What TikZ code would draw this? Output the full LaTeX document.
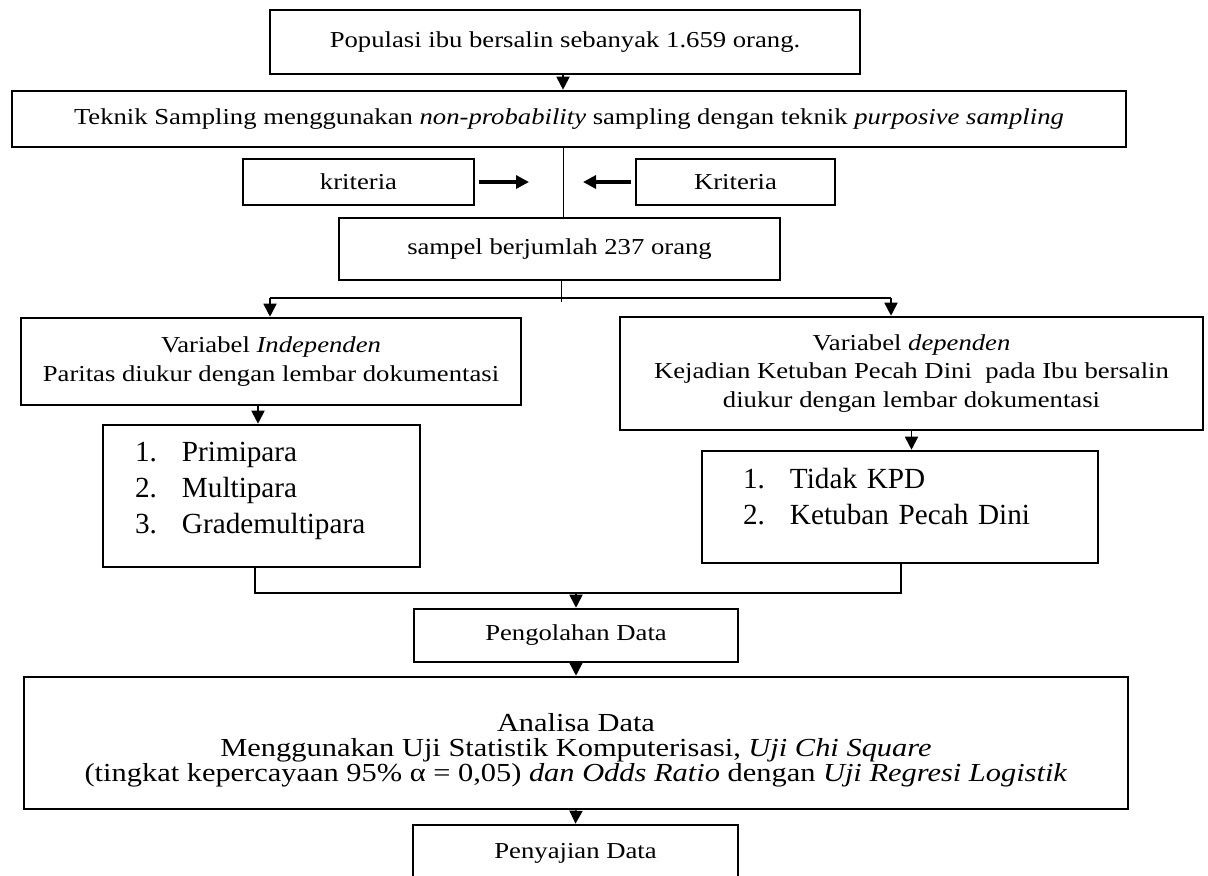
\documentclass[tikz,border=0pt]{standalone}
\usepackage{fontspec}
\setmainfont{Liberation Serif}[FakeStretch=1.17]
\newfontfamily\listfont{Liberation Serif}
\usepackage{tikz}
\usetikzlibrary{arrows.meta, calc}

\begin{document}
\begin{tikzpicture}[x=0.5pt, y=-0.5pt, >={Triangle[length=6.5pt,width=6.5pt]},
  box/.style={draw, line width=1.3pt, inner sep=0pt, align=center, font=\fontsize{11.4}{14.2}\selectfont},
  listbox/.style={draw, line width=1.3pt, inner ysep=0pt, align=left, font=\listfont\fontsize{14.6}{18}\selectfont},
  link/.style={line width=0.9pt},
  thinlink/.style={line width=0.5pt}]

  \useasboundingbox (0,0) rectangle (1208,875);

  \node[box, minimum width=295pt, minimum height=32pt] (pop) at (565,42) {Populasi ibu bersalin sebanyak 1.659 orang.};
  \node[box, minimum width=557pt, minimum height=28pt] (teknik) at (569,119)
    {Teknik Sampling menggunakan \textit{non-probability} sampling dengan teknik \textit{purposive sampling}};
  \node[box, minimum width=115.5pt, minimum height=23pt] (krit1) at (358.5,182) {kriteria};
  \node[box, minimum width=99.5pt, minimum height=23pt] (krit2) at (735.5,182) {Kriteria};
  \node[box, minimum width=220.5pt, minimum height=31pt] (sampel) at (559.5,249) {sampel berjumlah 237 orang};

  \node[box, minimum width=250pt, minimum height=43.5pt] (indep) at (271,361.5)
    {Variabel \textit{Independen}\\Paritas diukur dengan lembar dokumentasi};
  \node[box, minimum width=291.5pt, minimum height=56.5pt] (dep) at (911.5,373.5)
    {Variabel \textit{dependen}\\Kejadian Ketuban Pecah Dini\ \ pada Ibu bersalin\\diukur dengan lembar dokumentasi};

  \node[listbox, minimum height=71pt, inner xsep=16pt, text width=126.5pt] (paritas) at (261.5,496)
    {\makebox[23.5pt][l]{1.}Primipara\\\makebox[23.5pt][l]{2.}Multipara\\\makebox[23.5pt][l]{3.}Grademultipara\rule[-7.7pt]{0pt}{7.7pt}};
  \node[listbox, minimum height=56pt, inner xsep=20.5pt, text width=157pt] (kpd) at (900,507)
    {\makebox[23.5pt][l]{1.}Tidak KPD\\\makebox[23.5pt][l]{2.}Ketuban Pecah Dini\rule[-10.2pt]{0pt}{10.2pt}};

  \node[box, minimum width=162pt, minimum height=26.5pt] (olah) at (576,635.5) {Pengolahan Data};
  \node[box, minimum width=552pt, minimum height=66pt, font=\fontsize{13}{12.5}\selectfont] (analisa) at (576,743)
    {\rule{0pt}{16pt}Analisa Data\\Menggunakan Uji Statistik Komputerisasi, \textit{Uji Chi Square}\\
     (tingkat kepercayaan 95\% α = 0,05) \textit{dan Odds Ratio} dengan \textit{Uji Regresi Logistik}};
  \node[box, minimum width=162.5pt, minimum height=36pt] (saji) at (575.5,861) {Penyajian Data\rule[-10.5pt]{0pt}{10.5pt}};

  \coordinate (kin1) at (529,182);
  \coordinate (kin2) at (583,182);
  \coordinate (split) at (561,298);
  \coordinate (brL) at (270,298);
  \coordinate (brR) at (891,298);
  \coordinate (joinL) at (255,593);
  \coordinate (joinR) at (901,593);

  \draw[link, ->] (pop.south -| 563,0) -- (teknik.north -| 563,0);
  \draw[thinlink] (teknik.south -| 563,0) -- (sampel.north -| 563,0);
  \draw[line width=1.6pt, ->] ([xshift=2pt]krit1.east) -- (kin1);
  \draw[line width=1.6pt, ->] ([xshift=-2pt]krit2.west) -- (kin2);

  \draw[thinlink] (sampel.south -| split) -- ($(split)+(0,4)$);
  \draw[link] (brL) -- (brR);
  \draw[link, ->] (brL) -- (brL |- indep.north);
  \draw[link, ->] (brR) -- (brR |- dep.north);

  \draw[link, ->] (indep.south -| 258,0) -- (paritas.north -| 258,0);
  \draw[link, ->] (dep.south) -- (dep.south |- kpd.north);

  \draw[link] (paritas.south -| joinL) -- (joinL) -- (joinR) -- (kpd.south -| joinR);
  \draw[link, ->] (olah.north |- joinL) -- (olah.north);
  \draw[link, ->] (olah.south) -- (analisa.north);
  \draw[link, ->] (analisa.south) -- (saji.north);

\end{tikzpicture}
\end{document}
